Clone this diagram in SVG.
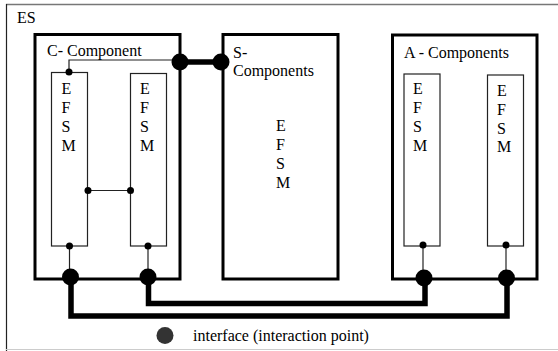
<svg xmlns="http://www.w3.org/2000/svg" width="558" height="351" viewBox="0 0 558 351">
<style>
text{font-family:"Liberation Serif","Times New Roman","DejaVu Serif",serif;font-size:16px;fill:#000}
.comp{fill:none;stroke:#000;stroke-width:3}
.efsm{fill:#fff;stroke:#222;stroke-width:1.2}
.thin{fill:none;stroke:#222;stroke-width:1.2}
.thick{fill:none;stroke:#000;stroke-width:5.5}
.big{fill:#000}
.small{fill:#000}
</style>
<rect width="558" height="351" fill="#fff"/>
<g id="ES">
<line x1="6" y1="4.5" x2="558" y2="4.5" stroke="#777" stroke-width="1.5"/>
<line x1="6.5" y1="4" x2="6.5" y2="351" stroke="#222" stroke-width="1.2"/>
<line x1="6" y1="349.5" x2="558" y2="349.5" stroke="#ccc" stroke-width="1"/>
<text x="17" y="23">ES</text>
</g>
<g id="connectors">
<polyline class="thick" points="180,62 221,62"/>
<polyline class="thick" points="148.5,277 148.5,303.5 425,303.5 425,278"/>
<polyline class="thick" points="71,277 71,316 507,316 507,278"/>
<polyline class="thin" points="180,60 69,60 69,72"/>
<line class="thin" x1="88" y1="190.5" x2="130" y2="190.5"/>
<line class="thin" x1="69.5" y1="246" x2="69.5" y2="277"/>
<line class="thin" x1="148" y1="246" x2="148" y2="277"/>
<line class="thin" x1="423" y1="245" x2="423" y2="278"/>
<line class="thin" x1="506" y1="245" x2="506" y2="278"/>
</g>
<g id="c-component">
<rect class="comp" x="35" y="34.5" width="145" height="244.5"/>
<text x="47" y="56">C- Component</text>
<g id="c-efsm1">
<rect class="efsm" x="51.5" y="72.5" width="36" height="173.5"/>
<text x="61.5" y="94">E</text>
<text x="61.5" y="113">F</text>
<text x="61.5" y="132">S</text>
<text x="61.5" y="150.5">M</text>
</g>
<g id="c-efsm2">
<rect class="efsm" x="130.5" y="73.5" width="36" height="172.5"/>
<text x="140" y="94">E</text>
<text x="140" y="113">F</text>
<text x="140" y="132">S</text>
<text x="140" y="150.5">M</text>
</g>
</g>
<g id="s-components">
<rect class="comp" x="223" y="34.5" width="115" height="244.5"/>
<text x="233" y="57.5">S-</text>
<text x="233" y="76">Components</text>
<text x="276" y="130.5">E</text>
<text x="276" y="149.5">F</text>
<text x="276" y="168.5">S</text>
<text x="276" y="187.5">M</text>
</g>
<g id="a-components">
<rect class="comp" x="392.5" y="35" width="144.5" height="244"/>
<text x="404" y="57.5">A - Components</text>
<g id="a-efsm1">
<rect class="efsm" x="404" y="74" width="36" height="172"/>
<text x="413" y="94">E</text>
<text x="413" y="113">F</text>
<text x="413" y="132">S</text>
<text x="413" y="150.5">M</text>
</g>
<g id="a-efsm2">
<rect class="efsm" x="487.5" y="75" width="36" height="171"/>
<text x="497" y="95.5">E</text>
<text x="497" y="114.5">F</text>
<text x="497" y="133.5">S</text>
<text x="497" y="152">M</text>
</g>
</g>
<g id="interfaces">
<circle class="big" cx="180" cy="62" r="8.5"/>
<circle class="big" cx="221" cy="62" r="8.5"/>
<circle class="big" cx="70.5" cy="277" r="8.5"/>
<circle class="big" cx="148" cy="277" r="8.5"/>
<circle class="big" cx="424" cy="278" r="8.5"/>
<circle class="big" cx="506.5" cy="278" r="8.5"/>
<circle class="small" cx="69" cy="72" r="3.5"/>
<circle class="small" cx="88" cy="190.5" r="3.5"/>
<circle class="small" cx="130.5" cy="190.5" r="3.5"/>
<circle class="small" cx="69.5" cy="246" r="3.5"/>
<circle class="small" cx="148" cy="246" r="3.5"/>
<circle class="small" cx="423" cy="245" r="3.5"/>
<circle class="small" cx="506" cy="245" r="3.5"/>
</g>
<g id="legend">
<circle cx="165" cy="335.5" r="8.5" fill="#333"/>
<text x="193" y="341">interface (interaction point)</text>
</g>
</svg>
